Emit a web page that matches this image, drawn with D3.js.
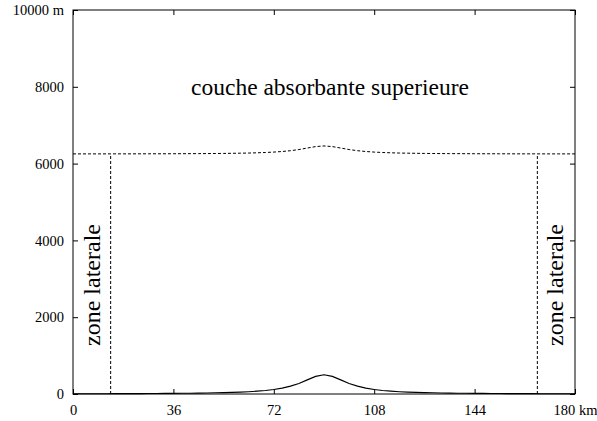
<!DOCTYPE html>
<html><head><meta charset="utf-8">
<script src="https://cdn.jsdelivr.net/npm/d3@7"></script>
<style>body{margin:0;background:#fff}svg{display:block}
svg text{font-family:"Liberation Serif","Times New Roman",Times,"Nimbus Roman","DejaVu Serif",serif !important;}
</style>
</head><body>
<script>
const xTicks = [0, 36, 72, 108, 144, 180];
const xTickLabels = ["0", "36", "72", "108", "144", "180 km"];
const yTicks = [0, 2000, 4000, 6000, 8000, 10000];
const yTickLabels = ["0", "2000", "4000", "6000", "8000", "10000 m"];
const xKm = d3.range(0, 181, 3);
const terrain = [6,7,7,8,8,9,10,10,11,12,14,15,17,19,21,24,27,31,36,42,50,60,74,92,118,154,205,276,368,459,500,459,368,276,205,154,118,92,74,60,50,42,36,31,27,24,21,19,17,15,14,12,11,10,10,9,8,8,7,7,6];
const topLayer = [6253,6253,6253,6253,6253,6254,6254,6254,6255,6255,6256,6256,6257,6258,6259,6260,6261,6263,6265,6268,6271,6275,6281,6289,6300,6315,6336,6366,6405,6443,6460,6443,6405,6366,6336,6315,6300,6289,6281,6275,6271,6268,6265,6263,6261,6260,6259,6258,6257,6256,6256,6255,6255,6254,6254,6254,6253,6253,6253,6253,6253];
const lateralZones = [13.5, 166.5];
const lateralTop = 6250;
const title = "couche absorbante superieure";
const sideLabel = "zone laterale";

const W = 597, H = 421;
const m = {l: 73, r: 22, t: 10, b: 27};
const svg = d3.select("body").append("svg").attr("width", W).attr("height", H);
const x = d3.scaleLinear().domain([0, 180]).range([m.l, W - m.r]);
const y = d3.scaleLinear().domain([0, 10000]).range([H - m.b, m.t]);

const g = svg.append("g");
g.append("rect").attr("x", x(0)).attr("y", y(10000)).attr("width", x(180) - x(0)).attr("height", y(0) - y(10000))
  .attr("fill", "none").attr("stroke", "#000").attr("stroke-width", 1);

const ax = [
  d3.axisBottom(x).tickValues(xTicks).tickSize(-5).tickFormat((d, i) => xTickLabels[i]),
  d3.axisTop(x).tickValues(xTicks).tickSize(-5).tickFormat(""),
  d3.axisLeft(y).tickValues(yTicks).tickSize(-5).tickFormat((d, i) => yTickLabels[i]),
  d3.axisRight(y).tickValues(yTicks).tickSize(-5).tickFormat("")
];
const tr = [`translate(0,${y(0)})`, `translate(0,${y(10000)})`, `translate(${x(0)},0)`, `translate(${x(180)},0)`];
ax.forEach((a, i) => {
  const ag = g.append("g").attr("transform", tr[i]).call(a);
  ag.attr("font-family", null);
  ag.select(".domain").remove();
  ag.selectAll(".tick line").attr("stroke", "#000");
  ag.selectAll("text").attr("font-size", 14.5).attr("fill", "#000");
  if (i === 0) ag.selectAll("text").attr("dy", "0").attr("y", 21);
  if (i === 2) ag.selectAll("text").attr("x", -9);
});

const line = d3.line().x((d, i) => x(xKm[i])).y(d => y(d));
g.append("path").datum(terrain).attr("d", line).attr("fill", "none").attr("stroke", "#000").attr("stroke-width", 1.1);
g.append("path").datum(topLayer).attr("d", line).attr("fill", "none").attr("stroke", "#000")
  .attr("stroke-width", 1).attr("stroke-dasharray", "3,2");
g.selectAll(".lat").data(lateralZones).join("line")
  .attr("x1", d => x(d)).attr("x2", d => x(d)).attr("y1", y(0)).attr("y2", y(lateralTop))
  .attr("stroke", "#000").attr("stroke-width", 1).attr("stroke-dasharray", "3,2");

g.append("text").attr("x", 330).attr("y", 95).attr("text-anchor", "middle")
  .attr("font-size", 23.5).text(title);
[100, 563].forEach(bx => {
  g.append("text").attr("transform", `translate(${bx},285) rotate(-90)`).attr("text-anchor", "middle")
    .attr("font-size", 24).text(sideLabel);
});
</script>
</body></html>
